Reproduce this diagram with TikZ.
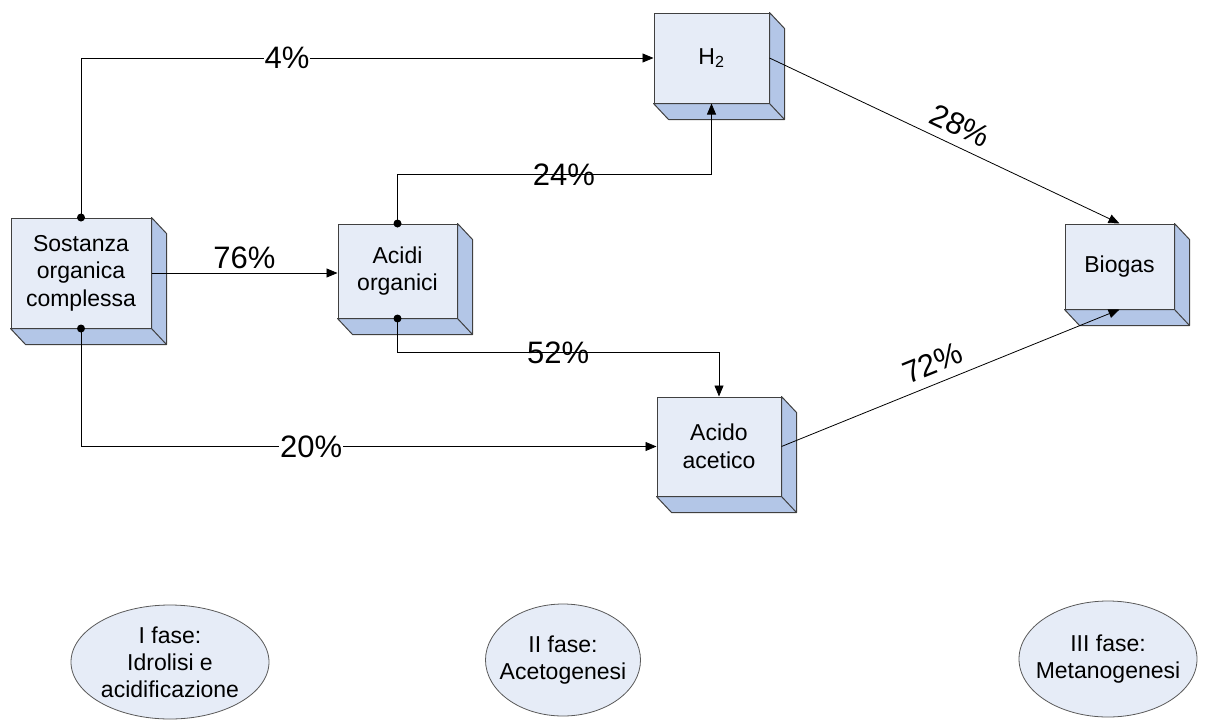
\documentclass[tikz,border=0pt]{standalone}
\usepackage{fontspec}
\setmainfont{Liberation Sans}
\usetikzlibrary{arrows.meta,shapes.geometric}
\definecolor{front}{HTML}{E6ECF7}
\definecolor{side}{HTML}{B3C6E7}
\definecolor{edge}{HTML}{404040}
\begin{document}
\begin{tikzpicture}[x=1pt,y=-1pt,
  box/.style={draw=edge, line width=1pt, fill=front, align=center, inner sep=0pt,
    font=\fontsize{23}{27.5}\selectfont},
  phase/.style={ellipse, draw=gray!70!black, line width=0.8pt, fill=front, inner sep=0pt},
  ptext/.style={align=center, inner sep=0pt, font=\fontsize{23}{27}\selectfont},
  conn/.style={line width=0.8pt, black},
  arr/.style={conn, -{Triangle[length=11pt,width=9pt]}},
  pct/.style={font=\fontsize{31}{31}\selectfont, inner sep=1pt},
  sideface/.style={fill=side, draw=edge, line width=1pt, line join=round}
]
\useasboundingbox (0,0) rectangle (1209,720);

% boxes (front faces)
\node[box, minimum width=140pt, minimum height=110pt] (s) at (81,273) {Sostanza\\organica\\complessa};
\node[box, minimum width=115pt, minimum height=90pt] (h) at (711.5,58) {H\textsubscript{2}};
\node[box, minimum width=119pt, minimum height=94pt] (a) at (397.5,271) {Acidi\\organici};
\node[box, minimum width=124pt, minimum height=99pt] (c) at (719,446.5) {Acido\\acetico};
\node[box, minimum width=109pt, minimum height=85pt] (b) at (1119.5,266.5) {Biogas};

% 3D side and bottom faces
\foreach \n in {s,h,a,c,b}{
  \filldraw[sideface] (\n.north east) -- ++(15,16) -- ([shift={(15,16)}]\n.south east)
    -- ([shift={(15,16)}]\n.south west) -- (\n.south west) -- (\n.south east) -- cycle;
  \draw[edge, line width=1pt] (\n.south east) -- ++(15,16);
}

% connectors
\draw[arr] (s.north) |- node[pct, fill=white, pos=0.68]{4\%} (h.west);
\draw[arr] (s.east) -- node[pct, anchor=south, yshift=3pt]{76\%} (s.east -| a.west);
\draw[arr] (s.south) |- node[pct, fill=white, pos=0.7]{20\%} (c.west);
\draw[arr] (a.north) -- ++(0,-49) -| node[pct, pos=0.265]{24\%} (h.south);
\draw[arr] (a.south) -- ++(0,34) -| node[pct, pos=0.25]{52\%} (c.north);
\draw[arr] (h.east) -- node[pct, sloped, anchor=south, pos=0.52, yshift=8pt]{28\%} (b.north);
\draw[arr] (c.east) -- node[pct, sloped, anchor=south, pos=0.47, yshift=8pt]{72\%} (b.south);

% dots
\foreach \p in {s.north, s.south, a.north, a.south}
  \fill (\p) circle[radius=4pt];

% phases
\node[phase, minimum width=198pt, minimum height=114pt] (p1) at (170,662) {};
\node[ptext] (p1t) at (p1) {I fase:\\Idrolisi e\\acidificazione};
\node[phase, minimum width=155pt, minimum height=112pt] (p2) at (563,660) {};
\node[ptext] (p2t) at (p2) {II fase:\\Acetogenesi};
\node[phase, minimum width=178pt, minimum height=116pt] (p3) at (1108,659) {};
\node[ptext] (p3t) at (p3) {III fase:\\Metanogenesi};
\end{tikzpicture}
\end{document}
